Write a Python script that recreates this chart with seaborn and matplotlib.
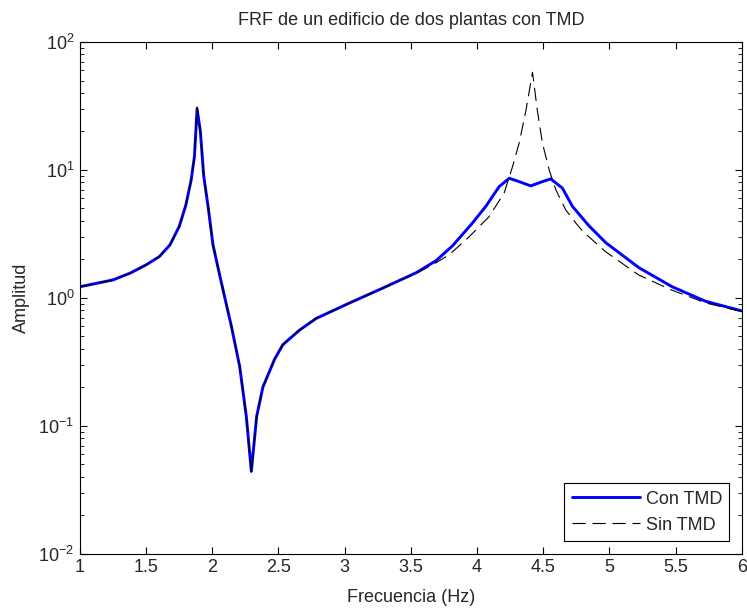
import matplotlib
matplotlib.use('Agg')
import matplotlib.pyplot as plt
import seaborn as sns
import numpy as np
import pandas as pd
from matplotlib.ticker import LogLocator, FixedLocator

# values
freq_con = [1.0, 1.25, 1.38, 1.50, 1.60, 1.68, 1.75, 1.80, 1.84, 1.865, 1.885,
            1.91, 1.935, 1.97, 2.005, 2.056, 2.09, 2.144, 2.207, 2.257, 2.295,
            2.335, 2.382, 2.47, 2.533, 2.66, 2.785, 3.036, 3.287, 3.54, 3.69,
            3.815, 3.966, 4.067, 4.167, 4.243, 4.318, 4.406, 4.494, 4.557,
            4.645, 4.72, 4.846, 4.972, 5.223, 5.474, 5.726, 6.0]
amp_con = [1.22, 1.38, 1.56, 1.81, 2.10, 2.59, 3.61, 5.3, 8.3, 12.7, 30.0,
           20.0, 9.0, 5.0, 2.6, 1.5, 1.05, 0.60, 0.29, 0.118, 0.044,
           0.118, 0.20, 0.33, 0.43, 0.56, 0.69, 0.91, 1.19, 1.57, 1.95,
           2.55, 3.85, 5.2, 7.4, 8.6, 8.1, 7.5, 8.1, 8.5,
           7.2, 5.2, 3.65, 2.7, 1.72, 1.22, 0.94, 0.79]

freq_sin = [1.0, 1.25, 1.38, 1.50, 1.60, 1.68, 1.75, 1.80, 1.84, 1.865, 1.885,
            1.91, 1.935, 1.97, 2.005, 2.056, 2.09, 2.144, 2.207, 2.257, 2.295,
            2.335, 2.382, 2.47, 2.533, 2.66, 2.785, 3.036, 3.287, 3.54, 3.69,
            3.79, 3.94, 4.09, 4.205, 4.268, 4.318, 4.369, 4.419, 4.456, 4.494,
            4.545, 4.595, 4.67, 4.75, 4.80, 4.97, 5.22, 5.47, 5.73, 6.0]
amp_sin = [1.22, 1.38, 1.56, 1.81, 2.10, 2.59, 3.61, 5.3, 8.3, 12.7, 31.0,
           20.0, 9.0, 5.0, 2.6, 1.5, 1.05, 0.60, 0.29, 0.118, 0.043,
           0.118, 0.20, 0.33, 0.43, 0.56, 0.69, 0.91, 1.19, 1.55, 1.88,
           2.17, 3.0, 4.3, 6.6, 10.6, 16.2, 29.0, 58.0, 29.0, 16.2,
           10.0, 7.0, 4.87, 3.8, 3.3, 2.3, 1.51, 1.15, 0.91, 0.78]

x_ticks = [1, 1.5, 2, 2.5, 3, 3.5, 4, 4.5, 5, 5.5, 6]
x_tick_labels = ['1', '1.5', '2', '2.5', '3', '3.5', '4', '4.5', '5', '5.5', '6']

con_df = pd.DataFrame({'freq': freq_con, 'amp': amp_con})
sin_df = pd.DataFrame({'freq': freq_sin, 'amp': amp_sin})

sns.set_style('white')
plt.rcParams['font.family'] = ['Liberation Sans', 'DejaVu Sans']
plt.rcParams['font.size'] = 13
plt.rcParams['mathtext.fontset'] = 'custom'
plt.rcParams['mathtext.rm'] = 'Liberation Sans'

fs = 13
fig = plt.figure(figsize=(7.47, 6.09), dpi=100)
ax = fig.add_axes([0.107, 0.091, 0.886, 0.840])

sns.lineplot(data=con_df, x='freq', y='amp', estimator=None, sort=False,
             color='#0000ff', linewidth=2.1, label='Con TMD', ax=ax)
sns.lineplot(data=sin_df, x='freq', y='amp', estimator=None, sort=False,
             color='black', linewidth=0.8, linestyle=(0, (12, 6)),
             label='Sin TMD', ax=ax)

ax.set_yscale('log')
ax.set_xlim(1, 6)
ax.set_ylim(1e-2, 1e2)
ax.xaxis.set_major_locator(FixedLocator(x_ticks))
ax.set_xticklabels(x_tick_labels)
ax.yaxis.set_major_locator(LogLocator(base=10, numticks=10))
ax.yaxis.set_minor_locator(LogLocator(base=10, subs=np.arange(2, 10), numticks=20))

for side in ['top', 'right', 'bottom', 'left']:
    ax.spines[side].set_visible(True)
    ax.spines[side].set_color('black')
    ax.spines[side].set_linewidth(0.8)
ax.tick_params(which='both', direction='in', top=True, right=True,
               bottom=True, left=True, color='black', labelsize=fs)
ax.tick_params(which='major', length=5, pad=4)
ax.tick_params(which='minor', length=3)

ax.set_xlabel('Frecuencia (Hz)', fontsize=fs, labelpad=9)
ax.set_ylabel('Amplitud', fontsize=fs, labelpad=6)
ax.set_title('FRF de un edificio de dos plantas con TMD', fontsize=fs, pad=12)

leg = ax.legend(loc='lower right', fancybox=False, framealpha=1,
                edgecolor='black', handlelength=3.8, borderaxespad=0.7,
                fontsize=fs, handletextpad=0.3, labelspacing=0.5,
                borderpad=0.4)
leg.get_frame().set_linewidth(0.8)

fig.savefig('out.png', dpi=100)
plt.close(fig)
